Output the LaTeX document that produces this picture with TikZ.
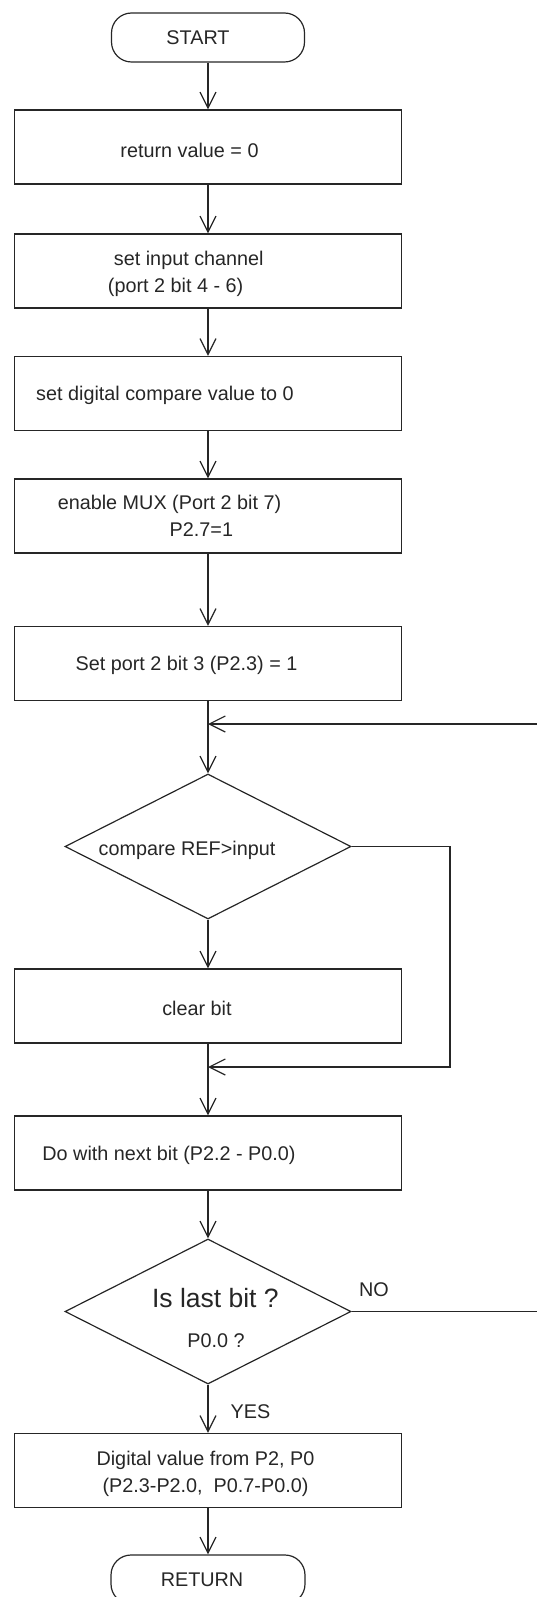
\documentclass[tikz,border=0pt]{standalone}
\usepackage{fontspec}
\setmainfont{Liberation Sans}
\usetikzlibrary{shapes.geometric,arrows.meta}
\begin{document}
\begin{tikzpicture}[x=1pt, y=-1pt, line width=1.2pt, color=black!85, font=\fontsize{19.8}{27}\selectfont,
box/.style={draw, rectangle, minimum width=387pt, minimum height=74pt, inner sep=0pt},
term/.style={draw, rectangle, rounded corners=20pt, minimum width=193pt, minimum height=49pt, inner sep=0pt},
dec/.style={draw, diamond, minimum width=286pt, minimum height=145pt, inner sep=0pt},
arr/.style={-{Straight Barb[length=16pt, width=16pt]}}]
\useasboundingbox (0,0) rectangle (537,1597);
\clip (0,0) rectangle (537,1597);
\node[term, label = {[xshift=-10pt]center:START}] (F1N0) at (208,37.5) {};
\node[box, label = {[xshift=-18.5pt, yshift=-3pt]center:{return value = 0}}] (F1N1) at (208,147) {};
\node[box, label = {[align=left, xshift=-22.2pt, yshift=-2.5pt]center:{\hspace*{6pt}set input channel\\(port 2 bit 4 - 6)}}] (F1N2) at (208,271) {};
\node[box, label = {[xshift=-43pt, yshift=-1.5pt]center:{set digital compare value to 0}}] (F1N3) at (208,393.5) {};
\node[box, label = {[xshift=-38.5pt, yshift=12pt]center:{enable MUX (Port 2 bit 7)}}, label = {[xshift=-6.6pt, yshift=-14pt]center:{P2.7=1}}] (F1N4) at (208,516) {};
\node[box, label = {[xshift=-21.5pt, yshift=-1.5pt]center:{Set port 2 bit 3 (P2.3) = 1}}] (F1N5) at (208,663.5) {};
\node[dec, label = {[xshift=-21pt, yshift=-3.5pt]center:{compare REF>input}}] (F1N6) at (208,846.5) {};
\node[box, label = {[xshift=-11pt, yshift=-2pt]center:{clear bit}}] (F1N7) at (208,1006) {};
\node[box, label = {[xshift=-39pt, yshift=-2pt]center:{Do with next bit (P2.2 - P0.0)}}] (F1N8) at (208,1153) {};
\node[dec, label = {[xshift=7.4pt, yshift=13.5pt, font=\fontsize{26.5}{30}\selectfont]center:{Is last bit ?}}, label = {[xshift=8pt, yshift=-29.5pt]center:{P0.0 ?}}, label = {[xshift=166pt, yshift=21.5pt]center:NO}, label = {[xshift=42.5pt, yshift=-100.5pt]center:YES}] (F1N9) at (208,1311.5) {};
\node[box, label = {[align=center, xshift=-2.5pt, yshift=-3pt]center:{Digital value from P2, P0\\(P2.3-P2.0, \ P0.7-P0.0)}}] (F1N10) at (208,1470.5) {};
\node[term, minimum width=194pt, label = {[xshift=-6pt, yshift=-0.5pt]center:RETURN}] (F1N11) at (208,1579.5) {};
\coordinate (F1J0) at (208,724);
\coordinate (F1R0) at (560,724);
\coordinate (F1J1) at (208,1067);
\coordinate (F1R1) at (450,1067);
\draw[arr] (F1N0) -- (F1N1);
\draw[arr] (F1N1) -- (F1N2);
\draw[arr] (F1N2) -- (F1N3);
\draw[arr] (F1N3) -- (F1N4);
\draw[arr] (F1N4) -- (F1N5);
\draw[arr] (F1N5) -- (F1N6);
\draw[arr] (F1N6) -- (F1N7);
\draw[arr] (F1N7) -- (F1N8);
\draw[arr] (F1N8) -- (F1N9);
\draw[arr] (F1N9) -- (F1N10);
\draw[arr] (F1N10) -- (F1N11);
\draw[arr] (F1N6.east) -| (F1R1) -- (F1J1);
\draw[arr] (F1N9.east) -| (F1R0) -- (F1J0);
\end{tikzpicture}
\end{document}
